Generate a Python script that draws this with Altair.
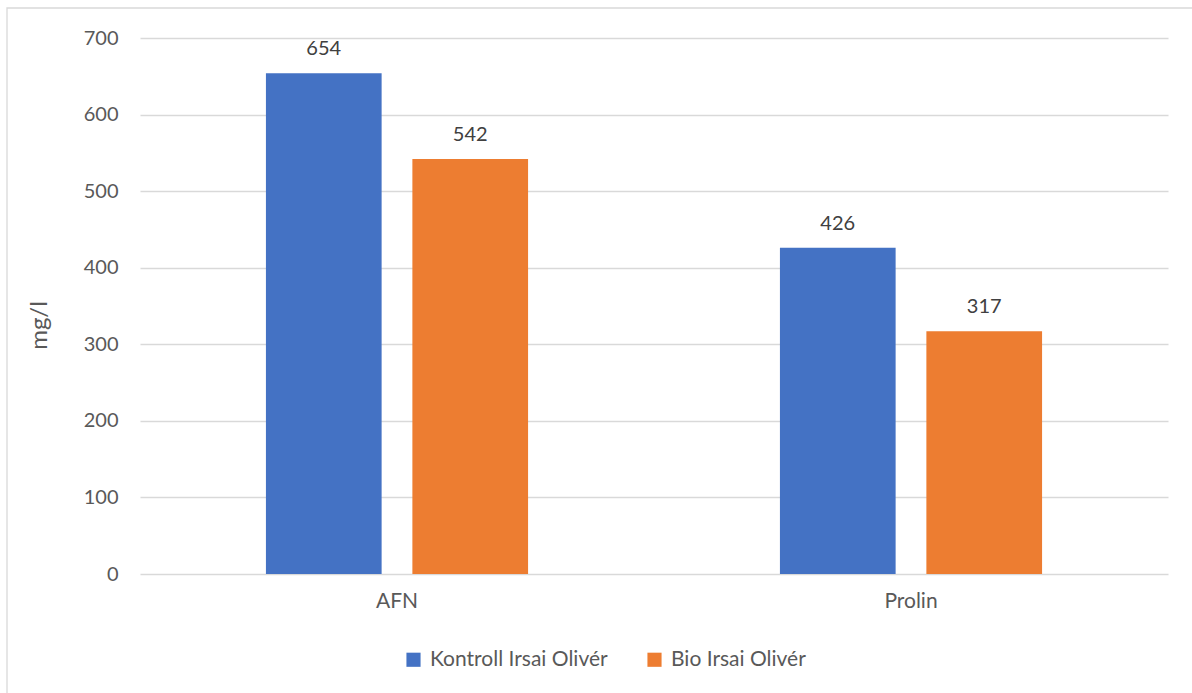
import altair as alt
import pandas as pd

categories = ["AFN", "AFN", "Prolin", "Prolin"]
series = ["Kontroll Irsai Olivér", "Bio Irsai Olivér", "Kontroll Irsai Olivér", "Bio Irsai Olivér"]
values = [654, 542, 426, 317]
series_order = ["Kontroll Irsai Olivér", "Bio Irsai Olivér"]
colors = ["#4472C4", "#ED7D31"]

df = pd.DataFrame({"cat": categories, "series": series, "value": values})

FONT = "Lato"
FS = 20
FS_TXT = 21

x = alt.X("cat:N", title=None, sort=["AFN", "Prolin"],
          scale=alt.Scale(paddingInner=0.49, paddingOuter=0.245),
          axis=alt.Axis(labelAngle=0, labelPadding=16, ticks=False, domain=False,
                        labelFontSize=FS_TXT, labelColor="#595959", labelFont=FONT))
xo = alt.XOffset("series:N", sort=series_order,
                 scale=alt.Scale(paddingInner=0.21, paddingOuter=0))
y = alt.Y("value:Q", title="mg/l",
          scale=alt.Scale(domain=[0, 700], nice=False),
          axis=alt.Axis(values=[0, 100, 200, 300, 400, 500, 600, 700], ticks=False, domain=False,
                        labelPadding=22, labelFontSize=FS, labelColor="#595959", labelFont=FONT,
                        gridColor="#D9D9D9", gridWidth=1.3,
                        titleFontSize=24, titleColor="#595959", titleFont=FONT,
                        titleFontWeight="normal", titleX=-89, titleY=287))

bars = alt.Chart(df).mark_bar().encode(
    x=x, xOffset=xo, y=y,
    color=alt.Color("series:N", sort=series_order,
                    scale=alt.Scale(domain=series_order, range=colors),
                    legend=alt.Legend(title=None, orient="none", direction="horizontal",
                                      legendX=263, legendY=611,
                                      symbolType="square", symbolSize=200, symbolStrokeWidth=0,
                                      labelFontSize=FS_TXT, labelColor="#595959", labelFont=FONT,
                                      labelLimit=0, columnPadding=36, labelOffset=6)),
)

labels = alt.Chart(df).mark_text(dy=-24, fontSize=FS, color="#404040", font=FONT).encode(
    x=x, xOffset=xo, y=y, text="value:Q",
)

border = alt.Chart(pd.DataFrame({"a": [0]})).mark_rect(
    fill=None, stroke="#D9D9D9", strokeWidth=1.3
).encode(x=alt.value(-133), y=alt.value(-30), x2=alt.value(1200), y2=alt.value(800))

chart = alt.layer(border, bars, labels).properties(
    width=1028, height=536,
    autosize=alt.AutoSizeParams(type="none"),
    padding={"left": 140, "top": 38, "right": 24, "bottom": 119},
    background="white",
).configure_view(stroke=None)

chart.save("out.html", embed_options={"renderer": "svg", "actions": False})
